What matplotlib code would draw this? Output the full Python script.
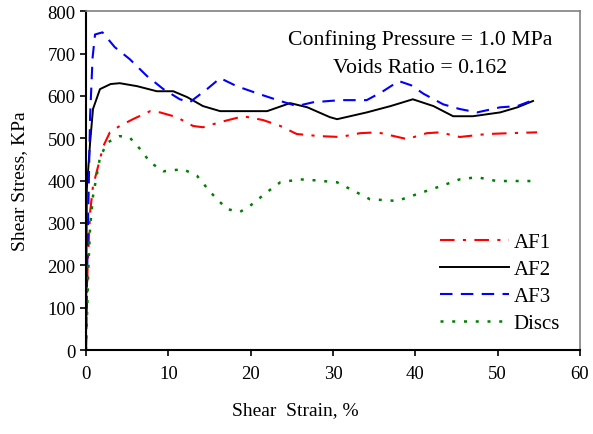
import matplotlib.pyplot as plt

plt.rcParams['font.family'] = ['Liberation Serif', 'DejaVu Serif']

# AF1 - red dash-dot
af1_x = [0, 0.2, 0.5, 0.85, 2.1, 2.9, 4.1, 5.7, 7.8, 9.0, 11.0, 13.0, 14.2, 16.3, 19.1,
         21.5, 23.6, 25.6, 28.4, 30.9, 33.3, 35.4, 39.0, 41.4, 43.0, 45.4, 48.7, 51.5, 54.8]
af1_y = [0, 200, 325, 387, 481, 514, 529, 545, 564, 561, 550, 529, 526, 538, 552,
         543, 529, 510, 505, 503, 512, 514, 498, 512, 514, 503, 510, 512, 514]

# AF2 - black solid
af2_x = [0, 0.1, 0.5, 0.85, 1.7, 3.0, 4.1, 6.2, 8.6, 10.6, 12.3, 14.2, 16.3, 19.5, 22.0,
         24.8, 26.9, 29.6, 30.5, 34.1, 37.0, 39.7, 42.2, 44.6, 47.0, 50.3, 52.4, 54.3]
af2_y = [0, 380, 490, 569, 616, 628, 630, 623, 611, 611, 597, 576, 564, 564, 564,
         583, 573, 550, 545, 561, 576, 592, 576, 552, 552, 561, 573, 588]

# AF3 - blue dashed
af3_x = [0, 0.2, 0.5, 0.8, 1.1, 2.0, 3.5, 5.3, 7.4, 9.4, 11.4, 12.6, 14.7, 16.3, 18.3,
         21.1, 23.6, 25.6, 27.6, 30.9, 34.1, 36.0, 38.0, 39.5, 41.0, 43.4, 45.4, 47.5, 50.3, 52.4, 54.3]
af3_y = [0, 250, 552, 690, 745, 750, 715, 687, 647, 616, 592, 585, 616, 642, 623,
         604, 588, 576, 585, 590, 590, 610, 635, 625, 605, 580, 569, 561, 573, 576, 590]

# Discs - green dotted
disc_x = [0, 0.3, 0.5, 0.85, 1.7, 2.6, 4.1, 5.3, 6.6, 7.8, 9.4, 11.8, 13.5, 15.1, 17.1,
          18.7, 19.9, 22.0, 23.6, 26.0, 27.6, 30.5, 33.3, 34.5, 37.8, 40.2, 43.4, 45.4,
          47.5, 49.9, 54.3]
disc_y = [0, 200, 290, 363, 455, 490, 505, 502, 474, 443, 422, 427, 411, 373, 333,
          326, 340, 373, 396, 403, 401, 396, 368, 356, 352, 368, 389, 403,
          408, 399, 399]

fig = plt.figure(figsize=(5.93, 4.35), dpi=100)
ax = fig.add_axes([0.145, 0.193, 0.833, 0.779])

ax.plot(af1_x, af1_y, color='red', lw=1.5, dashes=(7, 4, 1.5, 4), label='AF1')
ax.plot(af2_x, af2_y, color='black', lw=1.4, label='AF2')
ax.plot(af3_x, af3_y, color='blue', lw=1.5, dashes=(6, 4), label='AF3')
ax.plot(disc_x, disc_y, color='green', lw=1.8, dashes=(1.2, 3.5), label='Discs')

ax.set_xlim(0, 60)
ax.set_ylim(0, 800)
ax.set_xticks(range(0, 61, 10))
ax.set_yticks(range(0, 801, 100))
ax.tick_params(direction='out', length=4, width=1.2, labelsize=13.5)
ax.tick_params(axis='x', pad=7)
for s in ['left', 'bottom']:
    ax.spines[s].set_linewidth(1.5)
for s in ['top', 'right']:
    ax.spines[s].set_color('gray')
    ax.spines[s].set_linewidth(1.2)

ax.set_xlabel('Shear  Strain, %', fontsize=14)
ax.xaxis.set_label_coords(0.423, -0.15)
ax.set_ylabel('Shear Stress, KPa', fontsize=14)
ax.yaxis.set_label_coords(-0.118, 0.5)

ax.text(0.676, 0.917, 'Confining Pressure = 1.0 MPa', transform=ax.transAxes,
        ha='center', va='center', fontsize=15.7)
ax.text(0.676, 0.835, 'Voids Ratio = 0.162', transform=ax.transAxes,
        ha='center', va='center', fontsize=15.7)

ax.legend(loc='lower right', bbox_to_anchor=(0.997, -0.005), frameon=False,
          fontsize=15, handlelength=3.3, labelspacing=0.35, handletextpad=0.2)

fig.savefig('out.png', dpi=100)
